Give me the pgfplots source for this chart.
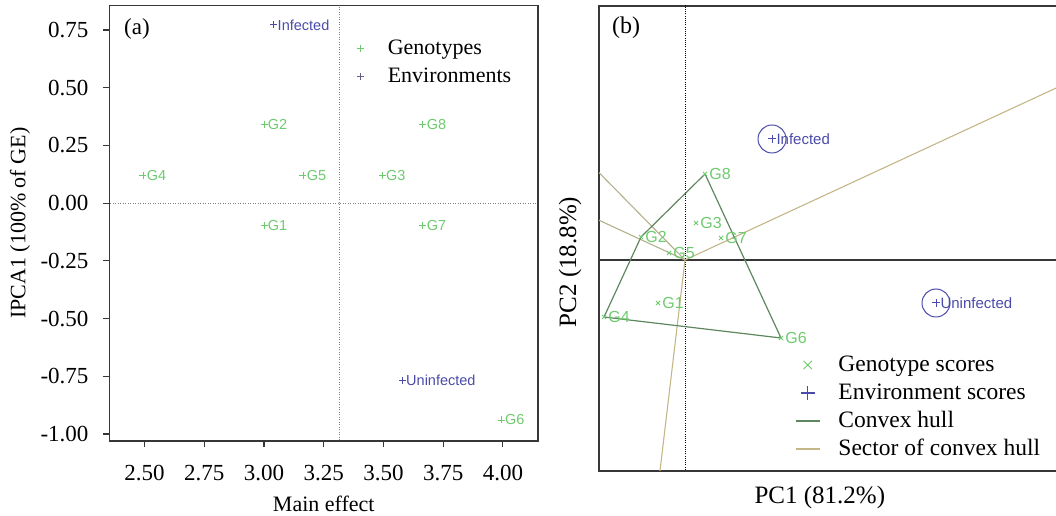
\documentclass[border=0pt]{standalone}
\usepackage{fontspec}
\setmainfont{Liberation Serif}
\newfontfamily\sansf{Liberation Sans}
\usepackage{pgfplots}
\pgfplotsset{compat=1.18}
\definecolor{gcol}{RGB}{110,202,110}
\definecolor{ecol}{RGB}{75,75,170}
\definecolor{elegcol}{RGB}{95,95,135}
\definecolor{hullcol}{RGB}{95,135,95}
\definecolor{seccol}{RGB}{195,182,135}
\definecolor{seccolb}{RGB}{180,176,140}
\definecolor{framecol}{RGB}{55,55,55}
\pgfplotsset{
 markleg/.style={legend image code/.code={\path (0bp,0bp) (24bp,0bp); \draw[##1, only marks] plot coordinates {(12bp,0bp)};}},
 lineleg/.style={legend image code/.code={\draw[##1] (0bp,0bp) -- (24bp,0bp);}},
}

\pgfplotstableread{
x y label
3.00 -0.098 G1
3.00 0.342 G2
3.495 0.119 G3
2.493 0.119 G4
3.163 0.119 G5
3.993 -0.939 G6
3.665 -0.098 G7
3.665 0.342 G8
}\genA
\pgfplotstableread{
x y label
3.041 0.772 Infected
3.579 -0.767 Uninfected
}\envA
\pgfplotstableread{
x y label
-0.27 -0.43 G1
-0.44 0.23 G2
0.11 0.37 G3
-0.81 -0.57 G4
-0.16 0.07 G5
0.96 -0.78 G6
0.36 0.22 G7
0.20 0.86 G8
}\genB
\pgfplotstableread{
x y label
0.87 1.21 Infected
2.51 -0.43 Uninfected
}\envB

\begin{document}
\begin{tikzpicture}[x=1bp,y=1bp]
% ---------------- panel (a)
\begin{axis}[
 at={(109.5bp,75bp)}, anchor=south west, scale only axis, width=428.5bp, height=435.5bp,
 xmin=2.353, xmax=4.147, ymin=-1.030, ymax=0.856,
 xtick={2.5,2.75,3,3.25,3.5,3.75,4}, ytick={-1,-0.75,-0.5,-0.25,0,0.25,0.5,0.75},
 xtick pos=bottom, ytick pos=left, tick align=outside, major tick length=6bp,
 tick style={line width=1.2bp, color=framecol},
 axis line style={line width=1.3bp, color=framecol},
 scaled ticks=false,
 /pgf/number format/assume math mode=true,
 ticklabel style={font=\fontsize{23bp}{27bp}\selectfont, /pgf/number format/fixed, /pgf/number format/fixed zerofill, /pgf/number format/precision=2},
 xticklabel style={yshift=-15bp},
 yticklabel style={xshift=-11.5bp},
 xlabel={Main effect}, ylabel={IPCA1 (100\% of GE)},
 label style={font=\fontsize{22bp}{26bp}\selectfont},
 x label style={at={(axis description cs:0.5,-0.1447)}, anchor=center},
 y label style={at={(axis description cs:-0.2089,0.5)}, anchor=center},
 legend cell align=left,
 legend style={draw=none, fill=none, at={(0.5566,0.9265)}, anchor=north west,
   font=\fontsize{22bp}{26bp}\selectfont, inner sep=0pt, outer sep=0pt, row sep=6bp,
   nodes={inner sep=0pt, text height=17bp, text depth=5bp},
   /tikz/every odd column/.append style={column sep=15bp}},
]
\addplot[forget plot, gray, line width=0.8bp, dash pattern=on 1bp off 1.5bp] coordinates {(3.315,-1.2) (3.315,1)};
\addplot[forget plot, gray, line width=0.8bp, dash pattern=on 1bp off 1.5bp] coordinates {(2.2,0) (4.3,0)};
\addplot[forget plot, only marks, mark=+, mark size=3.5bp, gcol, line width=0.8bp,
  nodes near coords, point meta=explicit symbolic,
  every node near coord/.style={anchor=west, inner sep=0pt, xshift=3.5bp, font=\sansf\fontsize{14.5bp}{17bp}\selectfont, text=gcol}]
  table[meta=label] {\genA};
\addplot[forget plot, only marks, mark=+, mark size=3.5bp, ecol, line width=0.8bp,
  nodes near coords, point meta=explicit symbolic,
  every node near coord/.style={anchor=west, inner sep=0pt, xshift=3.5bp, font=\sansf\fontsize{14.5bp}{17bp}\selectfont, text=ecol}]
  table[meta=label] {\envA};
\addlegendimage{markleg, gcol, mark=+, mark size=3.5bp, line width=0.8bp}
\addlegendentry{Genotypes}
\addlegendimage{markleg, elegcol, mark=+, mark size=3.5bp, line width=0.8bp}
\addlegendentry{Environments}
\node[anchor=west, inner sep=0pt, font=\fontsize{23bp}{27bp}\selectfont] at (rel axis cs:0.0338,0.946) {(a)};
\end{axis}
% ---------------- panel (b)
\begin{axis}[
 at={(599bp,45bp)}, anchor=south west, scale only axis, width=463bp, height=465bp,
 xmin=-0.86, xmax=3.77, ymin=-2.11, ymax=2.54,
 ticks=none,
 axis line style={line width=1.3bp, color=framecol},
 xlabel={PC1 (81.2\%)}, ylabel={PC2 (18.8\%)},
 label style={font=\fontsize{25bp}{29bp}\selectfont},
 x label style={at={(axis description cs:0.477,-0.056)}, anchor=center},
 y label style={at={(axis description cs:-0.0626,0.4495)}, anchor=center},
 legend cell align=left,
 legend style={draw=none, fill=none, at={(0.4233,0.2516)}, anchor=north west,
   font=\fontsize{23.5bp}{27bp}\selectfont, inner sep=0pt, outer sep=0pt, row sep=6bp,
   nodes={inner sep=0pt, text height=17bp, text depth=5bp},
   /tikz/every odd column/.append style={column sep=18bp}},
]
\addplot[forget plot, framecol, line width=1.5bp] coordinates {(-1,0) (4,0)};
\addplot[forget plot, black, line width=0.8bp, dash pattern=on 1bp off 1.2bp] coordinates {(0,-3) (0,3)};
\addplot[forget plot, seccolb, line width=1.1bp] coordinates {(0,0) (-1.26,1.28)};
\addplot[forget plot, seccolb, line width=1.1bp] coordinates {(0,0) (-1.6,0.74)};
\addplot[forget plot, seccol, line width=1.1bp] coordinates {(0,0) (4.92,2.28)};
\addplot[forget plot, seccol, line width=1.1bp] coordinates {(0,0) (-0.315,-2.655)};
\addplot[forget plot, hullcol, line width=1.2bp] coordinates {(-0.44,0.23) (0.20,0.86) (0.96,-0.78) (-0.81,-0.57) (-0.44,0.23)};
\addplot[forget plot, only marks, mark=x, mark size=3bp, gcol, line width=0.8bp,
  nodes near coords, point meta=explicit symbolic,
  every node near coord/.style={anchor=west, inner sep=0pt, xshift=4bp, font=\sansf\fontsize{16bp}{18bp}\selectfont, text=gcol}]
  table[meta=label] {\genB};
\addplot[forget plot, only marks, mark=o, mark size=14bp, ecol, line width=1bp] table {\envB};
\addplot[forget plot, only marks, mark=+, mark size=4bp, ecol, line width=1bp,
  nodes near coords, point meta=explicit symbolic,
  every node near coord/.style={anchor=west, inner sep=0pt, xshift=4bp, font=\sansf\fontsize{15bp}{17bp}\selectfont, text=ecol}]
  table[meta=label] {\envB};
\addlegendimage{markleg, gcol, mark=x, mark size=6bp, line width=1bp}
\addlegendentry{Genotype scores}
\addlegendimage{markleg, ecol, mark=+, mark size=7bp, line width=1.5bp}
\addlegendentry{Environment scores}
\addlegendimage{lineleg, hullcol, line width=1.5bp}
\addlegendentry{Convex hull}
\addlegendimage{lineleg, seccol, line width=1.5bp}
\addlegendentry{Sector of convex hull}
\node[anchor=west, inner sep=0pt, font=\fontsize{24bp}{28bp}\selectfont] at (rel axis cs:0.028,0.953) {(b)};
\end{axis}
\pgfresetboundingbox
\path[use as bounding box] (0,0) rectangle (1056bp,516bp);
\end{tikzpicture}
\end{document}
